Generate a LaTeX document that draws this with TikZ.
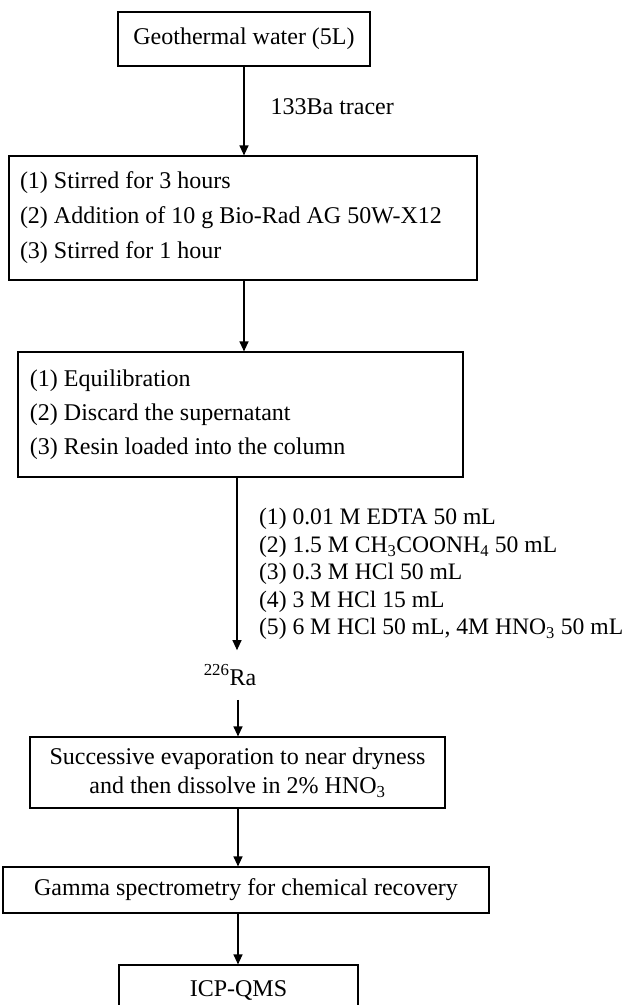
\documentclass[tikz,border=0pt]{standalone}
\usepackage{fontspec}
\setmainfont{Liberation Serif}
\usetikzlibrary{arrows.meta,positioning}

\begin{document}
\begin{tikzpicture}[x=1pt, y=-1pt,
  every node/.style={font=\fontsize{24}{28}\selectfont},
  procbox/.style={draw, line width=1.2pt, inner sep=0pt},
  flow/.style={line width=1.2pt, -{Triangle[length=10pt,width=9pt]}}]

\useasboundingbox (0,0) rectangle (627,1005);

\node[procbox, minimum width=252pt, minimum height=54pt] (water) at (244,39) {Geothermal water (5L)};
\node[procbox, minimum width=468pt, minimum height=124pt, text width=446pt, align=flush left, font=\fontsize{24}{35}\selectfont] (stir) at (243,218) {(1) Stirred for 3 hours\\(2) Addition of 10 g Bio-Rad AG 50W-X12\\(3) Stirred for 1 hour};
\node[procbox, minimum width=445pt, minimum height=125pt, text width=421pt, align=flush left, font=\fontsize{24}{34}\selectfont] (resin) at (240.5,414.5) {(1) Equilibration\\(2) Discard the supernatant\\(3) Resin loaded into the column};

\node[anchor=base, inner xsep=0pt, inner ysep=14.5pt] (ra) at (230,685) {\textsuperscript{226}Ra};

\node[procbox, minimum width=415pt, minimum height=71pt, align=center, font=\fontsize{24}{29}\selectfont] (evap) at (237.5,772.5) {Successive evaporation to near dryness\\and then dissolve in 2\% HNO\textsubscript{3}};
\node[procbox, minimum width=486pt, minimum height=46pt] (gamma) at (246,890) {Gamma spectrometry for chemical recovery};
\node[procbox, minimum width=239pt, minimum height=50pt] (icp) at (238.5,990) {ICP-QMS};

\coordinate (upper) at (244,0);
\coordinate (col) at (237,0);
\coordinate (lower) at (238,0);

\draw[flow] (water.south -| upper) -- (stir.north -| upper) node[pos=.45, right=26pt, inner sep=0pt] {133Ba tracer};
\draw[flow] (stir.south -| upper) -- (resin.north -| upper);
\draw[flow] (resin.south -| col) -- (ra.north -| col) node[pos=.56, right=21.5pt, inner sep=0pt, align=flush left, font=\fontsize{23.6}{27.5}\selectfont] {(1) 0.01 M EDTA 50 mL\\(2) 1.5 M CH\textsubscript{3}COONH\textsubscript{4} 50 mL\\(3) 0.3 M HCl 50 mL\\(4) 3 M HCl 15 mL\\(5) 6 M HCl 50 mL, 4M HNO\textsubscript{3} 50 mL};
\draw[flow] (ra.south -| lower) -- (evap.north -| lower);
\draw[flow] (evap.south -| lower) -- (gamma.north -| lower);
\draw[flow] (gamma.south -| lower) -- (icp.north -| lower);

\end{tikzpicture}
\end{document}
